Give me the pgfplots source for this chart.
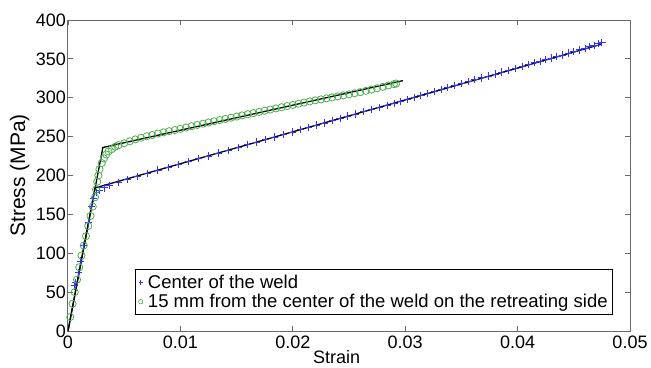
\documentclass[border=0pt]{standalone}
\usepackage{fontspec}
\setmainfont{Liberation Sans}
\usepackage{pgfplots}
\pgfplotsset{compat=1.18}
\definecolor{mblue}{RGB}{50,50,255}
\definecolor{mgreen}{RGB}{75,175,75}
\definecolor{axgray}{RGB}{105,105,105}
\begin{document}
\begin{tikzpicture}
\begin{axis}[
  scale only axis,
  width=562pt, height=311pt,
  xmin=0, xmax=0.05, ymin=0, ymax=400,
  xtick={0,0.01,0.02,0.03,0.04,0.05},
  xticklabels={0,0.01,0.02,0.03,0.04,0.05},
  ytick={0,50,100,150,200,250,300,350,400},
  scaled ticks=false,
  tick align=inside, tick pos=both,
  major tick length=5pt,
  axis line style={draw=axgray, line width=1pt},
  tick style={draw=axgray, line width=0.8pt},
  /pgf/number format/assume math mode=true,
  tick label style={font=\fontsize{18}{21}\selectfont},
  xticklabel style={yshift=-1pt},
  yticklabel style={xshift=1.5pt},
  label style={font=\fontsize{18}{21}\selectfont},
  xlabel={Strain},
  ylabel={Stress (MPa)},
  xlabel style={at={(axis description cs:0.478,-0.083)}, anchor=center},
  ylabel style={at={(axis description cs:-0.086,0.5)}, anchor=center, font=\fontsize{21}{24}\selectfont},
  legend style={at={(axis cs:0.0485,21)}, anchor=south east, draw=black, line width=1pt,
    font=\fontsize{18.5}{21}\selectfont, inner xsep=3pt, inner ysep=3pt, row sep=0.5pt, cells={anchor=west},
    /tikz/every odd column/.append style={column sep=3pt}},
]
\addplot[only marks, mark=+, mark size=3.6pt, color=mblue, line width=0.9pt,
  mark options={draw=mblue},
  legend image post style={mark size=2.2pt, line width=0.6pt, draw=mblue}] coordinates {
(0.0006,58)(0.0007,62)(0.0009,75)(0.0011,90)(0.0014,110)(0.0018,140)(0.0021,160)(0.0023,170)
(0.0025,178)(0.0028,181)(0.0032,184)(0.0037,187)(0.0045,191)(0.0053,195)(0.0062,199)(0.0071,203)
(0.0080,207)(0.0089,210.5)(0.0098,214)(0.0107,218)(0.0116,221.5)(0.0125,225)(0.0134,229)
(0.0143,232.5)(0.0152,236.5)(0.0160,240)(0.0168,243)(0.0176,246.5)(0.0184,249.5)(0.0192,253)
(0.0200,256)(0.0207,259)(0.0214,262)(0.0221,265)(0.0228,267.5)(0.0235,270.5)(0.0242,273.5)
(0.0249,276.5)(0.0256,279)(0.0263,282)(0.0270,285)(0.0277,287.5)(0.0284,290.5)(0.0290,293)
(0.0296,295.5)(0.0302,298)(0.0308,300.5)(0.0314,303)(0.0320,305.5)(0.0326,308)(0.0332,310.5)
(0.0338,313)(0.0344,315.5)(0.0350,318)(0.0356,320.5)(0.0362,323)(0.0368,325.5)(0.0374,328)
(0.0380,330.5)(0.0386,333)(0.0392,335.5)(0.0398,338)(0.0404,340.5)(0.0410,343)(0.0415,345)
(0.0420,347)(0.0425,349)(0.0430,351)(0.0435,353)(0.0440,355)(0.0445,357.5)(0.0450,359.5)
(0.0455,361.5)(0.0460,363.5)(0.0464,365.5)(0.0468,367.5)(0.0472,369.5)(0.0475,371)
};
\addlegendentry{Center of the weld}
\addplot[only marks, mark=o, mark size=3.6pt, color=mgreen, line width=0.8pt,
  mark options={draw=mgreen},
  legend image post style={mark size=2.2pt, line width=0.6pt, draw=mgreen}] coordinates {
(0.0002,18)(0.0004,35)(0.0006,50)(0.0008,66)(0.0010,82)(0.0012,97)(0.0014,110)(0.0016,122)
(0.0018,135)(0.0020,148)(0.0022,160)(0.0024,172)(0.0025,182)(0.0026,192)(0.0027,200)(0.0028,208)
(0.0030,216)(0.0032,222)(0.0034,227)(0.0036,231)(0.0039,234)(0.0042,237)
(0.0045,239)(0.0050,241.5)(0.0055,244)(0.0060,246.5)(0.0065,248.5)(0.0070,250.5)(0.0075,252)
(0.0080,254)(0.0085,255.5)(0.0090,257)(0.0095,258.5)(0.0100,260)(0.0105,261.8)(0.0110,263.4)
(0.0115,265)(0.0120,266.6)(0.0125,268.2)(0.0130,269.8)(0.0135,271.3)(0.0140,272.8)(0.0145,274.3)
(0.0150,275.8)(0.0155,277.3)(0.0160,278.8)(0.0165,280.3)(0.0170,281.8)(0.0175,283.3)(0.0180,284.8)
(0.0185,286.3)(0.0190,287.8)(0.0195,289.3)(0.0200,290.8)(0.0205,292.3)(0.0210,293.8)(0.0215,295.3)
(0.0220,296.6)(0.0225,297.9)(0.0230,299.2)(0.0235,300.5)(0.0240,301.8)(0.0245,303.1)(0.0250,304.4)
(0.0255,305.8)(0.0260,307.2)(0.0265,308.8)(0.0270,310.5)(0.0275,312.2)(0.0280,314.0)(0.0285,315.8)
(0.0290,317.5)(0.0292,318.3)
};
\addlegendentry{15 mm from the center of the weld on the retreating side}
\addplot[black, line width=1.3pt, forget plot] coordinates {(0,0)(0.0024,184)(0.0475,369)};
\addplot[black, line width=1.3pt, forget plot] coordinates {(0,0)(0.0031,236)(0.0298,322)};
\end{axis}
\pgfresetboundingbox
\path[use as bounding box] ([xshift=-68pt,yshift=-36pt]current axis.south west) rectangle ([xshift=21pt,yshift=20pt]current axis.north east);
\end{tikzpicture}
\end{document}
